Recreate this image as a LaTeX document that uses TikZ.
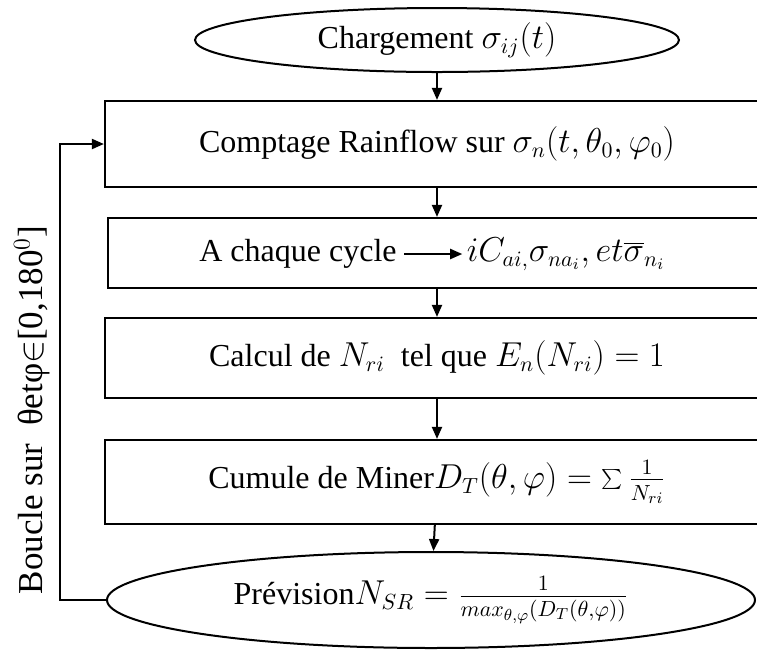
\documentclass[tikz,border=0pt]{standalone}
\usepackage{fontspec}
\setmainfont{LiberationSerif-Regular.ttf}[ItalicFont=LiberationSerif-Italic.ttf, BoldFont=LiberationSerif-Bold.ttf]
\usepackage{tikz}
\usetikzlibrary{arrows.meta,shapes.geometric,calc}

\begin{document}
\begin{tikzpicture}[x=0.5pt, y=-0.5pt, line width=1pt,
                    >={Triangle[length=6pt,width=5pt]},
                    every node/.style = {font=\rmfamily\fontsize{16}{19}\selectfont},
                    etape/.style = {rectangle, draw=black, line width=1.1pt, inner sep=0pt},
                    terminal/.style = {ellipse, draw=black, line width=1pt, inner sep=0pt},
                    lien/.style = {->}]

                \useasboundingbox (0,0) rectangle (757,650);
                \clip (0,0) rectangle (757,650);

                \node [terminal, minimum width=242pt, minimum height=32pt] (charge) at (437,40) {Chargement $\sigma_{ij}(t)$};

                \node [etape, minimum width=332pt, minimum height=43pt] (rainflow) at (437,144) {Comptage Rainflow sur $\sigma_n(t,\theta_0,\varphi_0)$};
                \node [etape, minimum width=329pt, minimum height=35pt] (cycle) at (437,253) {};
                \node (chaque) at (298,254) {A chaque cycle};
                \node (ampl) at (566,254) {$iC_{ai,}\sigma_{na_i},et\overline{\sigma}_{n_i}$};
                \draw [lien, shorten >=-1.5pt] (chaque) -- (ampl);
                \node [etape, minimum width=332pt, minimum height=40pt] (calcul) at (437,358) {Calcul de $N_{ri}$\ \ tel que $E_n(N_{ri}) = 1$};
                \node [etape, minimum width=332pt, minimum height=42pt] (miner) at (437,482) {Cumule de Miner$D_T(\theta,\varphi) = \sum\frac{1}{N_{ri}}$};

                \node [terminal, minimum width=324pt, minimum height=48pt] (prevision) at (431,600) {Pr\'evision$N_{SR} = \frac{1}{max_{\theta,\varphi}\left(D_T(\theta,\varphi)\right)}$};

                \draw [lien] (charge) -- (rainflow);
                \draw [lien] (rainflow) -- (cycle);
                \draw [lien] (cycle) -- (calcul);
                \draw [lien] (calcul) -- (miner);
                \draw [lien] (miner) -- (prevision);

                % boucle gauche
                \coordinate (coin) at (60,600);
                \draw [lien] (prevision.west) -- (coin) |- (rainflow.west);
                \node [rotate=90, font=\rmfamily\fontsize{17.5}{20}\selectfont] (boucle) at (32,410) {Boucle sur\ \ θetφ$\in$[0,180$^0$]};
            \end{tikzpicture}
\end{document}
